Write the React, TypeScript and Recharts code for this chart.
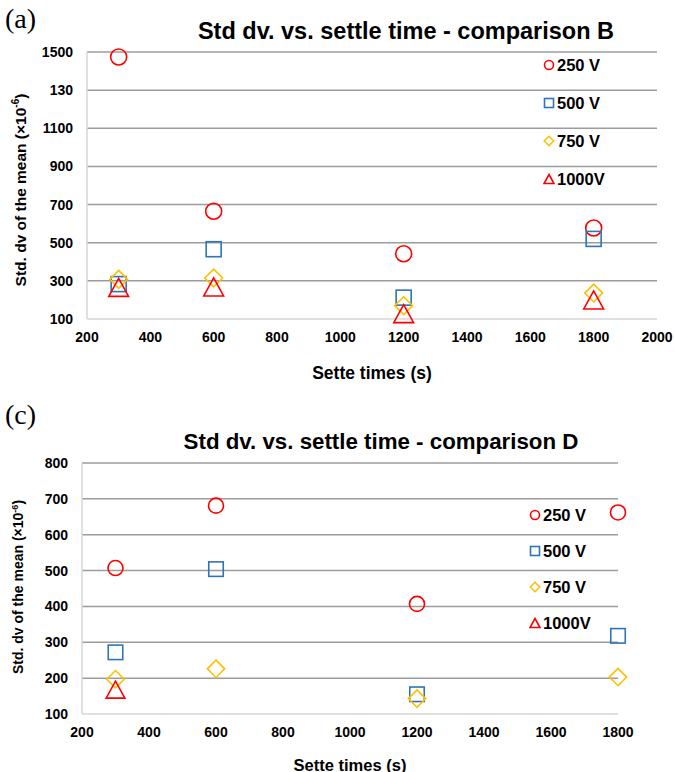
import { CartesianGrid, Scatter, ScatterChart, XAxis, YAxis } from "recharts";

// settle times (s)
const timesB = [300, 600, 1200, 1800];
const b250 = [1474, 665, 442, 577];
const b500 = [283, 466, 212, 520];
const b750 = [308, 315, 170, 236];
const b1000 = [266, 268, 128, 200];

const timesD = [300, 600, 1200, 1800];
const d250 = [507, 681, 407, 662];
const d500 = [272, 504, 155, 318];
const d750 = [197, 226, 143, 203];
const timesD1000 = [300];
const d1000 = [168];

const seriesNames = ["250 V", "500 V", "750 V", "1000V"];

const xTicksB = [200, 400, 600, 800, 1000, 1200, 1400, 1600, 1800, 2000];
const yTicksB = [100, 300, 500, 700, 900, 1100, 1300, 1500];
const yTickLabelsB = ["100", "300", "500", "700", "900", "1100", "130", "1500"];

const xTicksD = [200, 400, 600, 800, 1000, 1200, 1400, 1600, 1800];
const yTicksD = [100, 200, 300, 400, 500, 600, 700, 800];

const RED = "#FF0000";
const BLUE = "#2E75B6";
const GOLD = "#FFC000";
const GRID = "#9C9C9C";
const AXIS = "#D6D6D6";
const FONT = '"Liberation Sans", Arial, sans-serif';

type Kind = "circle" | "square" | "diamond" | "triangle";

const kinds: Kind[] = ["circle", "square", "diamond", "triangle"];
const colors = [RED, BLUE, GOLD, RED];

function Marker({ cx, cy, kind, color, s }: { cx: number; cy: number; kind: Kind; color: string; s: number }) {
  const h = s / 2;
  const common = { fill: "none", stroke: color, strokeWidth: 1.6 };
  if (kind === "circle") return <circle cx={cx} cy={cy} r={h} {...common} />;
  if (kind === "square") return <rect x={cx - h} y={cy - h} width={s} height={s} {...common} />;
  if (kind === "diamond") {
    const w = h * 1.05;
    return <polygon points={`${cx},${cy - w} ${cx + w},${cy} ${cx},${cy + w} ${cx - w},${cy}`} {...common} />;
  }
  const w = h * 1.1;
  return <polygon points={`${cx},${cy - h} ${cx + w},${cy + h} ${cx - w},${cy + h}`} {...common} />;
}

const toPoints = (xs: number[], ys: number[]) => xs.map((x, i) => ({ x, y: ys[i] }));

function shapeFor(kind: Kind, color: string, s: number) {
  return (p: any) => <Marker cx={p.cx} cy={p.cy} kind={kind} color={color} s={s} />;
}

function LegendBox({ left, top, gap }: { left: number; top: number; gap: number }) {
  return (
    <div style={{ position: "absolute", left, top }}>
      {seriesNames.map((name, i) => (
        <div key={name} style={{ position: "absolute", left: 0, top: i * gap, height: 20, display: "flex", alignItems: "center", transform: "translateY(-50%)" }}>
          <svg width={12} height={12} style={{ marginLeft: -6 }}>
            <Marker cx={6} cy={6} kind={kinds[i]} color={colors[i]} s={9} />
          </svg>
          <span style={{ fontFamily: FONT, fontWeight: 700, fontSize: 16.5, marginLeft: 2, whiteSpace: "nowrap" }}>{name}</span>
        </div>
      ))}
    </div>
  );
}

const abs = (left: number, top: number, extra: React.CSSProperties = {}): React.CSSProperties => ({
  position: "absolute",
  left,
  top,
  transform: "translate(-50%, -50%)",
  whiteSpace: "nowrap",
  fontFamily: FONT,
  fontWeight: 700,
  ...extra,
});

export default function App() {
  const tick = { fontFamily: FONT, fontWeight: 700, fontSize: 14, fill: "#000" };
  const dataB = [b250, b500, b750, b1000].map((ys) => toPoints(timesB, ys));
  const dataD = [toPoints(timesD, d250), toPoints(timesD, d500), toPoints(timesD, d750), toPoints(timesD1000, d1000)];
  const sizesB = [16, 15, 17, 18];
  const sizesD = [15, 14.5, 16.5, 17];

  return (
    <div style={{ position: "absolute", left: 0, top: 0, width: 675, height: 772, background: "#fff", overflow: "hidden" }}>
      <div style={{ position: "absolute", left: 5, top: 4, fontFamily: '"Liberation Serif", serif', fontSize: 28, lineHeight: "30px" }}>(a)</div>
      <div style={abs(406, 31, { fontSize: 23.5 })}>Std dv. vs. settle time - comparison B</div>
      <div style={abs(20, 190, { fontSize: 15.5, transform: "translate(-50%, -50%) rotate(-90deg)" })}>
        Std. dv of the mean (×10<sup style={{ fontSize: 10 }}>-6</sup>)
      </div>
      <div style={abs(372, 373, { fontSize: 17.5 })}>Sette times (s)</div>

      <div style={{ position: "absolute", left: 0, top: 0 }}>
        <ScatterChart width={675} height={390} margin={{ top: 52, right: 18, left: 0, bottom: 41 }}>
          <CartesianGrid vertical={false} stroke={GRID} strokeWidth={1.5} horizontalValues={yTicksB.slice(1)} />
          <XAxis type="number" dataKey="x" domain={[200, 2000]} ticks={xTicksB} height={30} tick={tick} tickLine={false} tickSize={0} tickMargin={13} axisLine={{ stroke: AXIS, strokeWidth: 1.5 }} interval={0} />
          <YAxis type="number" dataKey="y" domain={[100, 1500]} ticks={yTicksB} width={87} tick={tick} tickLine={false} tickSize={0} tickMargin={14} axisLine={{ stroke: AXIS, strokeWidth: 1.5 }} interval={0}
            tickFormatter={(v: number) => yTickLabelsB[yTicksB.indexOf(v)] ?? String(v)} />
          {dataB.map((d, i) => (
            <Scatter key={i} name={seriesNames[i]} data={d} isAnimationActive={false} shape={shapeFor(kinds[i], colors[i], sizesB[i])} />
          ))}
        </ScatterChart>
      </div>
      <LegendBox left={549} top={65} gap={38} />

      <div style={{ position: "absolute", left: 5, top: 400, fontFamily: '"Liberation Serif", serif', fontSize: 28, lineHeight: "30px" }}>(c)</div>
      <div style={abs(381, 442, { fontSize: 22.3 })}>Std dv. vs. settle time - comparison D</div>
      <div style={abs(18, 587, { fontSize: 14, transform: "translate(-50%, -50%) rotate(-90deg)" })}>
        Std. dv of the mean (×10<sup style={{ fontSize: 9 }}>-6</sup>)
      </div>
      <div style={abs(350, 765, { fontSize: 16.5 })}>Sette times (s)</div>

      <div style={{ position: "absolute", left: 0, top: 390 }}>
        <ScatterChart width={675} height={382} margin={{ top: 73, right: 57, left: 0, bottom: 28 }}>
          <CartesianGrid vertical={false} stroke={GRID} strokeWidth={1.5} horizontalValues={yTicksD.slice(1)} />
          <XAxis type="number" dataKey="x" domain={[200, 1800]} ticks={xTicksD} height={30} tick={tick} tickLine={false} tickSize={0} tickMargin={13} axisLine={{ stroke: AXIS, strokeWidth: 1.5 }} interval={0} />
          <YAxis type="number" dataKey="y" domain={[100, 800]} ticks={yTicksD} width={82} tick={tick} tickLine={false} tickSize={0} tickMargin={14} axisLine={{ stroke: AXIS, strokeWidth: 1.5 }} interval={0} />
          {dataD.map((d, i) => (
            <Scatter key={i} name={seriesNames[i]} data={d} isAnimationActive={false} shape={shapeFor(kinds[i], colors[i], sizesD[i])} />
          ))}
        </ScatterChart>
      </div>
      <LegendBox left={535} top={515} gap={36} />
    </div>
  );
}
